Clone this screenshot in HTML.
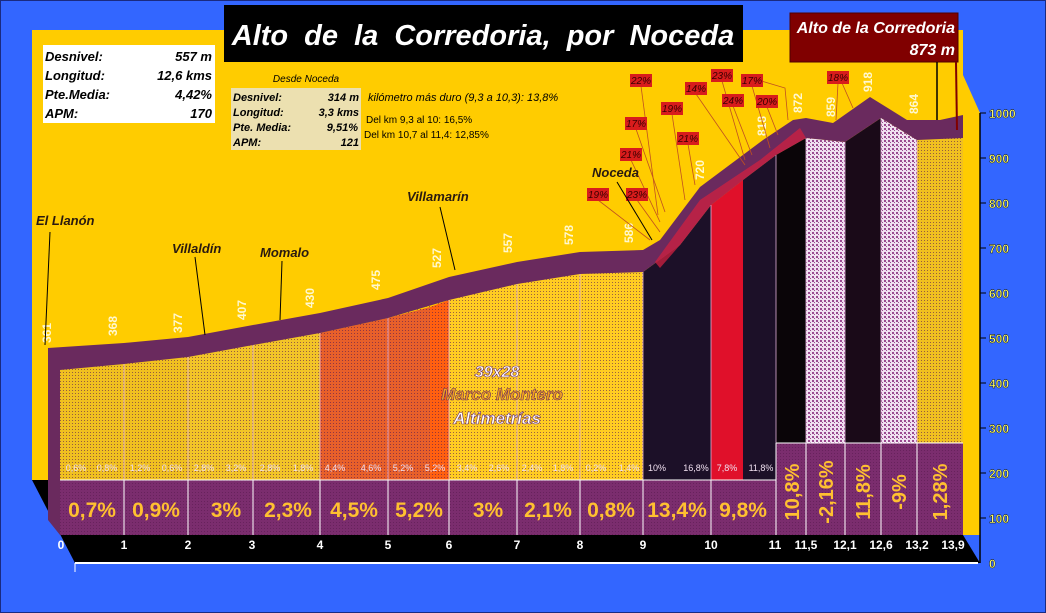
<!DOCTYPE html><html><head><meta charset="utf-8"><style>
body{margin:0;width:1046px;height:613px;overflow:hidden;background:#3366ff}
svg{display:block}
text{font-family:"Liberation Sans",sans-serif}
</style></head><body>
<svg width="1046" height="613" viewBox="0 0 1046 613">
<defs>
<pattern id="dots" width="3" height="3" patternUnits="userSpaceOnUse"><rect width="1" height="1" fill="#5a1a50" opacity=".6"/></pattern>
<pattern id="wp" width="4" height="4" patternUnits="userSpaceOnUse"><rect width="4" height="4" fill="#f0e0f0"/><rect width="2" height="2" fill="#9a4a90"/><rect x="2" y="2" width="1" height="1" fill="#9a4a90"/></pattern>
<clipPath id="fillclip"><polygon points="60,370 124,364 188,357 253,345 320,333 388,318 449,300 517,284 580,274 643,272 643,480 60,480"/></clipPath>
</defs>
<rect x="0" y="0" width="1046" height="613" fill="#3366ff"/>
<rect x="0.5" y="0.5" width="1045" height="612" fill="none" stroke="#1a2a80"/>
<polygon points="32,30 963,30 963,75 980,113 980,535 963,535 60,535 60,480 32,480" fill="#ffcc00"/>
<polygon points="32,480 60,480 60,535 963,535 980,563 75,563" fill="#000"/>
<line x1="75" y1="563" x2="978" y2="563" stroke="#fff" stroke-width="2"/>
<line x1="75" y1="563" x2="75" y2="572" stroke="#fff"/>
<g>
<polygon points="60,370 124,364 188,357 188,480 60,480" fill="#f0c020"/>
<polygon points="188,357 253,345 320,333 320,480 188,480" fill="#f2c428"/>
<polygon points="320,333 388,318 430,307 430,480 320,480" fill="#e8602a"/>
<polygon points="430,307 449,300 449,480 430,480" fill="#ff6010"/>
<polygon points="449,300 517,284 580,274 643,272 643,480 449,480" fill="#ffcc22"/>
<polygon points="643,272 680,245 711,205 711,480 643,480" fill="#1c1028"/>
<polygon points="711,205 743,180 743,480 711,480" fill="#e0102a"/>
<polygon points="743,180 776,155 776,480 743,480" fill="#1c1028"/>
<polygon points="776,155 806,138 806,443 776,443" fill="#0a0508"/>
<polygon points="806,138 845,142 845,443 806,443" fill="url(#wp)"/>
<polygon points="845,142 881,118 881,443 845,443" fill="#1a0a18"/>
<polygon points="881,118 917,140 917,443 881,443" fill="url(#wp)"/>
<polygon points="917,140 963,138 963,443 917,443" fill="#f0c020"/>
<rect x="60" y="260" width="583" height="220" fill="url(#dots)" clip-path="url(#fillclip)"/>
<rect x="917" y="138" width="46" height="305" fill="url(#dots)"/>
</g>
<polygon points="48,348 124,343 188,337 253,325 320,313 388,298 449,277 517,262 580,252 643,250 660,240 700,187 763,140 793,120 806,118 833,123 870,97 907,120 940,120 963,115 963,138 917,140 881,118 845,142 806,138 776,155 743,180 711,205 680,245 643,272 580,274 517,284 449,300 388,318 320,333 253,345 188,357 124,364 60,370 60,535 48,520" fill="#6a2a5e"/>
<polygon points="655,262 700,200 760,160 800,128 806,138 776,155 743,180 711,205 680,245 660,268" fill="#d02040" opacity=".75"/>
<g stroke="#e0b0d8" stroke-width="1" opacity=".8">
<line x1="124" y1="364" x2="124" y2="480"/><line x1="188" y1="357" x2="188" y2="480"/><line x1="253" y1="345" x2="253" y2="480"/><line x1="320" y1="333" x2="320" y2="480"/><line x1="388" y1="318" x2="388" y2="480"/><line x1="449" y1="300" x2="449" y2="480"/><line x1="517" y1="284" x2="517" y2="480"/><line x1="580" y1="274" x2="580" y2="480"/><line x1="643" y1="272" x2="643" y2="480"/><line x1="711" y1="205" x2="711" y2="480"/><line x1="776" y1="155" x2="776" y2="443"/><line x1="806" y1="138" x2="806" y2="443"/><line x1="845" y1="142" x2="845" y2="443"/><line x1="881" y1="118" x2="881" y2="443"/><line x1="917" y1="140" x2="917" y2="443"/>
</g>
<rect x="60" y="480" width="716" height="55" fill="#7b2d6e"/>
<rect x="776" y="443" width="187" height="92" fill="#7b2d6e"/>
<rect x="60" y="480" width="716" height="55" fill="url(#dots)"/>
<rect x="776" y="443" width="187" height="92" fill="url(#dots)"/>
<g stroke="#fff" stroke-width="1">
<line x1="60" y1="480" x2="776" y2="480"/><line x1="776" y1="443" x2="963" y2="443"/>
<line x1="124" y1="480" x2="124" y2="535"/><line x1="188" y1="480" x2="188" y2="535"/><line x1="253" y1="480" x2="253" y2="535"/><line x1="320" y1="480" x2="320" y2="535"/><line x1="388" y1="480" x2="388" y2="535"/><line x1="449" y1="480" x2="449" y2="535"/><line x1="517" y1="480" x2="517" y2="535"/><line x1="580" y1="480" x2="580" y2="535"/><line x1="643" y1="480" x2="643" y2="535"/><line x1="711" y1="480" x2="711" y2="535"/><line x1="776" y1="443" x2="776" y2="535"/><line x1="806" y1="443" x2="806" y2="535"/><line x1="845" y1="443" x2="845" y2="535"/><line x1="881" y1="443" x2="881" y2="535"/><line x1="917" y1="443" x2="917" y2="535"/>
</g>
<g font-weight="bold" font-size="21" fill="#ffc030" text-anchor="middle">
<text x="92" y="517">0,7%</text><text x="156" y="517">0,9%</text><text x="226" y="517">3%</text><text x="288" y="517">2,3%</text><text x="354" y="517">4,5%</text><text x="419" y="517">5,2%</text><text x="488" y="517">3%</text><text x="548" y="517">2,1%</text><text x="611" y="517">0,8%</text><text x="677" y="517">13,4%</text><text x="743" y="517">9,8%</text>
<g font-size="20">
<text transform="translate(799,492) rotate(-90)" text-anchor="middle">10,8%</text>
<text transform="translate(833,492) rotate(-90)" text-anchor="middle">-2,16%</text>
<text transform="translate(870,492) rotate(-90)" text-anchor="middle">11,8%</text>
<text transform="translate(906,492) rotate(-90)" text-anchor="middle">-9%</text>
<text transform="translate(947,492) rotate(-90)" text-anchor="middle">1,28%</text>
</g></g>
<g font-size="9" fill="#f0e0f0" text-anchor="middle">
<text x="76" y="471">0,6%</text><text x="107" y="471">0,8%</text><text x="140" y="471">1,2%</text><text x="172" y="471">0,6%</text><text x="204" y="471">2,8%</text><text x="236" y="471">3,2%</text><text x="270" y="471">2,8%</text><text x="303" y="471">1,8%</text><text x="335" y="471">4,4%</text><text x="371" y="471">4,6%</text><text x="403" y="471">5,2%</text><text x="435" y="471">5,2%</text><text x="467" y="471">3,4%</text><text x="499" y="471">2,6%</text><text x="532" y="471">2,4%</text><text x="563" y="471">1,8%</text><text x="596" y="471">0,2%</text><text x="629" y="471">1,4%</text><text x="657" y="471">10%</text><text x="696" y="471">16,8%</text><text x="727" y="471">7,8%</text><text x="761" y="471">11,8%</text>
</g>
<g font-size="12" font-weight="bold" fill="#fff" text-anchor="middle">
<text x="61" y="549">0</text><text x="124" y="549">1</text><text x="188" y="549">2</text><text x="252" y="549">3</text><text x="320" y="549">4</text><text x="388" y="549">5</text><text x="449" y="549">6</text><text x="517" y="549">7</text><text x="580" y="549">8</text><text x="643" y="549">9</text><text x="711" y="549">10</text><text x="775" y="549">11</text><text x="806" y="549">11,5</text><text x="845" y="549">12,1</text><text x="881" y="549">12,6</text><text x="917" y="549">13,2</text><text x="953" y="549">13,9</text>
</g>
<line x1="980" y1="113" x2="980" y2="563" stroke="#000" stroke-width="1.5"/>
<g font-size="12" font-weight="bold" fill="#ffff66" stroke="#000" stroke-width=".4">
<text x="989" y="118">1000</text><text x="989" y="163">900</text><text x="989" y="208">800</text><text x="989" y="253">700</text><text x="989" y="298">600</text><text x="989" y="343">500</text><text x="989" y="388">400</text><text x="989" y="433">300</text><text x="989" y="478">200</text><text x="989" y="523">100</text><text x="989" y="568">0</text>
</g>
<g stroke="#000"><line x1="980" y1="113" x2="986" y2="113"/><line x1="980" y1="158" x2="986" y2="158"/><line x1="980" y1="203" x2="986" y2="203"/><line x1="980" y1="248" x2="986" y2="248"/><line x1="980" y1="293" x2="986" y2="293"/><line x1="980" y1="338" x2="986" y2="338"/><line x1="980" y1="383" x2="986" y2="383"/><line x1="980" y1="428" x2="986" y2="428"/><line x1="980" y1="473" x2="986" y2="473"/><line x1="980" y1="518" x2="986" y2="518"/></g>
<g font-size="12" font-weight="bold" fill="#fff8d0">
<text transform="translate(51,343) rotate(-90)">361</text>
<text transform="translate(117,336) rotate(-90)">368</text>
<text transform="translate(182,333) rotate(-90)">377</text>
<text transform="translate(246,320) rotate(-90)">407</text>
<text transform="translate(314,308) rotate(-90)">430</text>
<text transform="translate(380,290) rotate(-90)">475</text>
<text transform="translate(441,268) rotate(-90)">527</text>
<text transform="translate(512,253) rotate(-90)">557</text>
<text transform="translate(573,245) rotate(-90)">578</text>
<text transform="translate(633,243) rotate(-90)">586</text>
<text transform="translate(704,180) rotate(-90)">720</text>
<text transform="translate(766,136) rotate(-90)">818</text>
<text transform="translate(802,113) rotate(-90)">872</text>
<text transform="translate(835,117) rotate(-90)">859</text>
<text transform="translate(872,92) rotate(-90)">918</text>
<text transform="translate(918,114) rotate(-90)">864</text>
</g>
<g stroke="#c05020" stroke-width="0.8" fill="none">
<polyline points="641,86 658,215"/><polyline points="636,129 665,212"/><polyline points="631,160 660,222"/><polyline points="598,200 650,240"/><polyline points="637,200 660,232"/><polyline points="672,114 685,200"/><polyline points="688,144 695,185"/><polyline points="696,94 745,165"/><polyline points="722,81 745,160"/><polyline points="733,106 752,155"/><polyline points="752,86 770,148"/><polyline points="767,107 778,135"/><polyline points="758,80 785,88 788,120"/><polyline points="838,83 836,120"/><polyline points="842,83 853,108"/>
</g>
<g font-size="10" font-style="italic" fill="#3a0000" text-anchor="middle">
<g fill="#d81c1c"><rect x="630" y="74" width="22" height="13"/><rect x="625" y="117" width="22" height="13"/><rect x="620" y="148" width="22" height="13"/><rect x="587" y="188" width="22" height="13"/><rect x="626" y="188" width="22" height="13"/><rect x="661" y="102" width="22" height="13"/><rect x="677" y="132" width="22" height="13"/><rect x="685" y="82" width="22" height="13"/><rect x="711" y="69" width="22" height="13"/><rect x="722" y="94" width="22" height="13"/><rect x="741" y="74" width="22" height="13"/><rect x="756" y="95" width="22" height="13"/><rect x="827" y="71" width="22" height="13"/></g>
<text x="641" y="84">22%</text><text x="636" y="127">17%</text><text x="631" y="158">21%</text><text x="598" y="198">19%</text><text x="637" y="198">23%</text><text x="672" y="112">19%</text><text x="688" y="142">21%</text><text x="696" y="92">14%</text><text x="722" y="79">23%</text><text x="733" y="104">24%</text><text x="752" y="84">17%</text><text x="767" y="105">20%</text><text x="838" y="81">18%</text>
</g>
<g font-size="13" font-style="italic" font-weight="bold" fill="#2a1a10">
<text x="36" y="225">El Llanón</text><text x="172" y="253">Villaldín</text><text x="260" y="257">Momalo</text><text x="407" y="201">Villamarín</text><text x="592" y="177">Noceda</text>
</g>
<g stroke="#000" stroke-width="1"><line x1="50" y1="232" x2="45" y2="345"/><line x1="195" y1="257" x2="205" y2="335"/><line x1="282" y1="261" x2="280" y2="320"/><line x1="440" y1="207" x2="455" y2="270"/><line x1="617" y1="182" x2="652" y2="240"/></g>
<rect x="224" y="5" width="519" height="57" fill="#000"/>
<text x="483" y="45" text-anchor="middle" font-size="29" font-style="italic" font-weight="bold" fill="#fff" word-spacing="8">Alto de la Corredoria, por Noceda</text>
<rect x="790" y="13" width="168" height="49" fill="#800000" stroke="#500000"/>
<text x="955" y="33" text-anchor="end" font-size="16" font-weight="bold" font-style="italic" fill="#fff">Alto de la Corredoria</text>
<text x="955" y="55" text-anchor="end" font-size="16" font-weight="bold" font-style="italic" fill="#fff">873 m</text>
<line x1="937" y1="62" x2="937" y2="120" stroke="#000" stroke-width="1.5"/>
<line x1="956" y1="62" x2="957" y2="130" stroke="#800000" stroke-width="2"/>
<rect x="43" y="45" width="172" height="78" fill="#fff"/>
<g font-size="13" font-weight="bold" font-style="italic" fill="#000">
<text x="45" y="61">Desnivel:</text><text x="45" y="80">Longitud:</text><text x="45" y="99">Pte.Media:</text><text x="45" y="118">APM:</text>
<g text-anchor="end"><text x="212" y="61">557 m</text><text x="212" y="80">12,6 kms</text><text x="212" y="99">4,42%</text><text x="212" y="118">170</text></g>
</g>
<text x="306" y="82" text-anchor="middle" font-size="10" font-style="italic" fill="#000">Desde Noceda</text>
<rect x="231" y="88" width="130" height="62" fill="#ece0b0"/>
<g font-size="11" font-weight="bold" font-style="italic" fill="#000">
<text x="233" y="101">Desnivel:</text><text x="233" y="116">Longitud:</text><text x="233" y="131">Pte. Media:</text><text x="233" y="146">APM:</text>
<g text-anchor="end"><text x="359" y="101">314 m</text><text x="359" y="116">3,3 kms</text><text x="358" y="131">9,51%</text><text x="359" y="146">121</text></g>
</g>
<text x="368" y="101" font-size="11" font-style="italic" fill="#000">kilómetro más duro (9,3 a 10,3): 13,8%</text>
<text x="366" y="123" font-size="10" fill="#000">Del km 9,3 al 10: 16,5%</text>
<text x="364" y="138" font-size="10" fill="#000">Del km 10,7 al 11,4: 12,85%</text>
<g font-weight="bold" font-style="italic" text-anchor="middle" stroke="#6a2a5e" stroke-width=".6">
<text x="497" y="377" font-size="16" fill="#fff">39x28</text>
<text x="502" y="400" font-size="17" fill="#f0a020">Marco Montero</text>
<text x="497" y="424" font-size="17" fill="#fff">Altimetrías</text>
</g>
</svg>
</body></html>
